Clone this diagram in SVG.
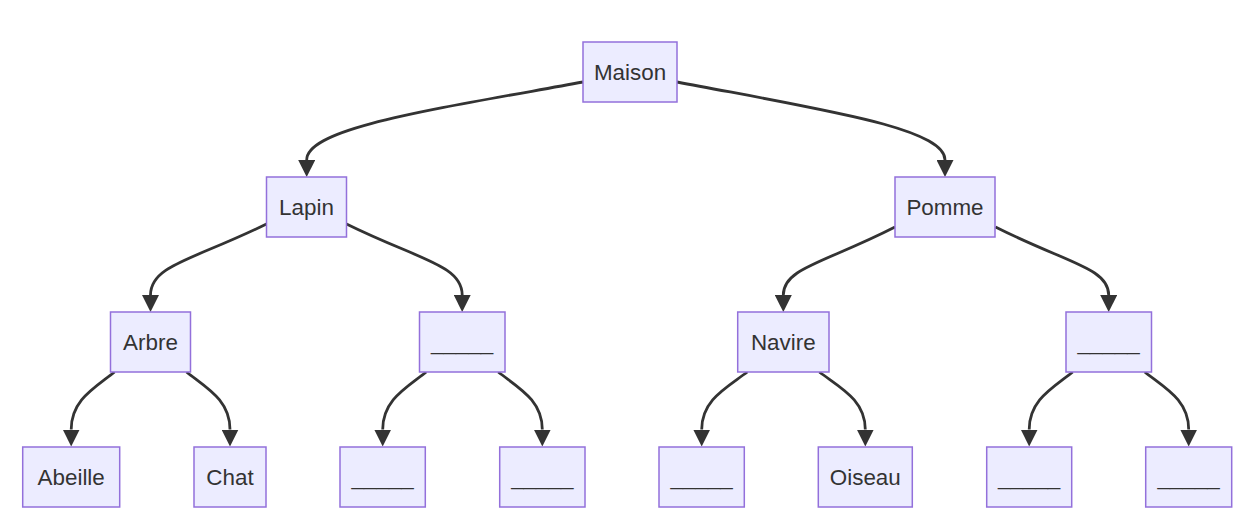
<svg xmlns="http://www.w3.org/2000/svg" width="1257" height="521" viewBox="0 0 1257 521">
<style>
.node rect{fill:#ECECFF;stroke:#9370DB;stroke-width:1.5}
.node text{font-family:"Liberation Sans",Arial,sans-serif;font-size:22.4px;fill:#333333;text-anchor:middle}
.edges path{fill:none;stroke:#333333;stroke-width:2.8;marker-end:url(#arrow)}
</style>
<defs>
<marker id="arrow" viewBox="0 0 10 10" refX="0" refY="5" markerWidth="17" markerHeight="17" markerUnits="userSpaceOnUse" orient="auto">
<path d="M0,0 L10,5 L0,10 z" fill="#333333"/>
</marker>
</defs>
<rect width="1257" height="521" fill="#ffffff"/>
<g class="edges" id="edges">
<path d="M583,82 C430,110 306.7,128 306.7,160"/>
<path d="M677,82 C824,110 945,128 945,160"/>
<path d="M266.5,224 C193.4,260 150.5,265 150.5,295"/>
<path d="M346.5,224 C419.4,260 462.2,265 462.2,295"/>
<path d="M895,227 C824.6,263 783.3,268 783.3,295"/>
<path d="M995.5,227 C1066.8,263 1108.7,268 1108.7,295"/>
<path d="M114.5,372 C94.6,388 71.2,400 71.2,429.5"/>
<path d="M186.5,372 C206.5,388 230,400 230,429.5"/>
<path d="M426.2,372 C406.2,388 382.7,400 382.7,429.5"/>
<path d="M498.2,372 C518.5,388 542.3,400 542.3,429.5"/>
<path d="M747.3,372 C726.3,388 701.7,400 701.7,429.5"/>
<path d="M819.3,372 C840.5,388 865.3,400 865.3,429.5"/>
<path d="M1072.7,372 C1052.7,388 1029.2,400 1029.2,429.5"/>
<path d="M1144.7,372 C1164.9,388 1188.7,400 1188.7,429.5"/>
</g>
<g class="node" id="maison"><rect x="583" y="42" width="94" height="60"/><text x="630" y="80">Maison</text></g>
<g class="node" id="lapin"><rect x="266.5" y="177" width="80" height="60"/><text x="306.5" y="215">Lapin</text></g>
<g class="node" id="pomme"><rect x="895" y="177" width="100" height="60"/><text x="945" y="215">Pomme</text></g>
<g class="node" id="arbre"><rect x="110.5" y="312" width="80" height="60"/><text x="150.5" y="350">Arbre</text></g>
<g class="node" id="blank-l2a"><rect x="419.5" y="312" width="85.5" height="60"/><text x="462.2" y="350">_____</text></g>
<g class="node" id="navire"><rect x="737.7" y="312" width="91.3" height="60"/><text x="783.3" y="350">Navire</text></g>
<g class="node" id="blank-l2b"><rect x="1066" y="312" width="85.5" height="60"/><text x="1108.7" y="350">_____</text></g>
<g class="node" id="abeille"><rect x="22.7" y="447" width="97" height="60"/><text x="71.2" y="485">Abeille</text></g>
<g class="node" id="chat"><rect x="194" y="447" width="72" height="60"/><text x="230" y="485">Chat</text></g>
<g class="node" id="blank-l3a"><rect x="340" y="447" width="85.3" height="60"/><text x="382.7" y="485">_____</text></g>
<g class="node" id="blank-l3b"><rect x="499.7" y="447" width="85.3" height="60"/><text x="542.3" y="485">_____</text></g>
<g class="node" id="blank-l3c"><rect x="659" y="447" width="85.3" height="60"/><text x="701.7" y="485">_____</text></g>
<g class="node" id="oiseau"><rect x="818.3" y="447" width="94" height="60"/><text x="865.3" y="485">Oiseau</text></g>
<g class="node" id="blank-l3d"><rect x="986.7" y="447" width="85" height="60"/><text x="1029.2" y="485">_____</text></g>
<g class="node" id="blank-l3e"><rect x="1145.7" y="447" width="86" height="60"/><text x="1188.7" y="485">_____</text></g>
</svg>
